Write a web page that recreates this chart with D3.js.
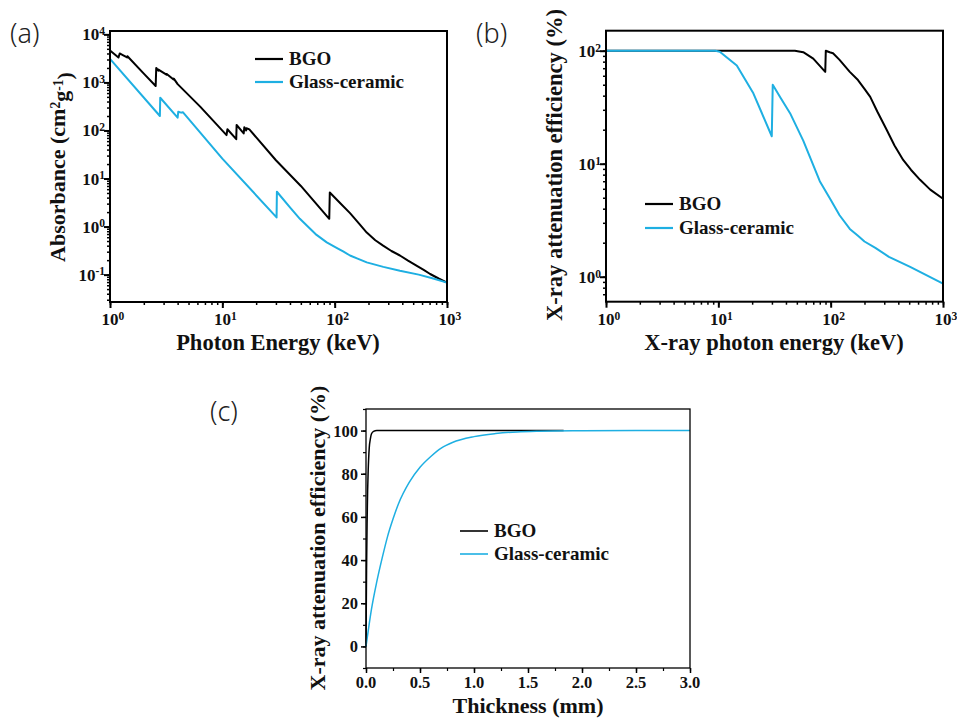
<!DOCTYPE html>
<html>
<head>
<meta charset="utf-8">
<script src="https://cdn.jsdelivr.net/npm/d3@7"></script>
<style>
  body { margin: 0; background: #fff; }
  svg text { font-family: "Liberation Serif", "Times New Roman", serif; font-weight: bold; fill: #111; }
  svg text.panel { font-family: "Noto Sans", "DejaVu Sans", sans-serif; font-weight: 300; fill: #222; }
</style>
</head>
<body>
<div id="chartContainer"></div>
<script>
// (a) mass absorption, [energy keV, cm2/g]
const bgoAbsorbance = [
  [1.0, 4600], [1.19, 3300], [1.22, 4000], [1.3, 3700], [1.42, 3300], [1.43, 3500],
  [2.0, 1520], [2.55, 840], [2.58, 2000], [2.69, 1750], [2.7, 1850], [3.18, 1450],
  [3.2, 1500], [3.68, 1150], [3.7, 1200], [4.0, 920], [6.35, 313], [10.9, 80],
  [11.1, 106], [13.3, 66], [13.4, 130], [15.5, 87], [15.7, 117], [16.3, 100],
  [16.4, 111], [17.4, 105], [30, 24], [50, 7.0], [89.5, 1.45], [90.5, 5.1],
  [110, 3.2], [137, 1.9], [165, 1.15], [193, 0.75], [230, 0.52], [270, 0.4],
  [320, 0.31], [381, 0.25], [450, 0.195], [530, 0.155], [620, 0.125], [708, 0.103],
  [850, 0.082], [1000, 0.068]
];
const glassAbsorbance = [
  [1.0, 3100], [2.78, 200], [2.8, 480], [4.0, 185], [4.05, 245], [4.3, 235],
  [4.45, 240], [10, 26], [30.4, 1.55], [30.6, 5.3], [40, 2.5], [49, 1.45], [69, 0.67],
  [85, 0.47], [104, 0.36], [120, 0.3], [137, 0.25], [160, 0.215], [193, 0.18],
  [271, 0.145], [381, 0.12], [560, 0.1], [754, 0.083], [1000, 0.068]
];

// (b) attenuation efficiency vs energy, [energy keV, %]
const bgoEfficiency = [
  [1, 100], [48, 100], [57, 97], [70, 85], [89.5, 65], [90.5, 100], [98, 97],
  [105, 95], [120, 83], [148, 65], [175, 55], [200, 46], [225, 39], [260, 29],
  [315, 20], [370, 14.5], [442, 10.8], [520, 8.8], [625, 7.2], [770, 5.9], [1000, 4.9]
];
const glassEfficiency = [
  [1, 100], [9.4, 100], [10.3, 98], [14.6, 74], [20.5, 42], [29.9, 17.5],
  [30.5, 50], [36, 38], [43.5, 28], [57, 16], [80, 7], [100, 4.8], [120, 3.5],
  [148, 2.65], [175, 2.3], [200, 2.05], [250, 1.8], [330, 1.5], [510, 1.22], [1000, 0.87]
];

// (c) attenuation efficiency vs thickness, [mm, %]
const bgoThickness = [
  [0, 0], [0.002, 15], [0.005, 35], [0.01, 57], [0.015, 72], [0.02, 81],
  [0.03, 92], [0.04, 96], [0.05, 98.4], [0.07, 99.6], [0.1, 100], [1.83, 100]
];
const glassThickness = [
  [0, 0], [0.02, 7], [0.05, 17], [0.1, 30], [0.15, 41], [0.2, 51], [0.25, 59],
  [0.3, 66], [0.4, 76], [0.5, 83], [0.6, 88], [0.7, 92], [0.8, 94.5], [1.0, 97.2],
  [1.2, 98.6], [1.4, 99.4], [1.6, 99.7], [2.0, 99.9], [2.5, 100], [3.0, 100]
];

// tick labels
const energyTicks = [1, 10, 100, 1000];
const absorbanceTicks = [0.1, 1, 10, 100, 1000, 10000];
const efficiencyTicks = [1, 10, 100];
const thicknessTicks = [0, 0.5, 1.0, 1.5, 2.0, 2.5, 3.0];
const percentTicks = [0, 20, 40, 60, 80, 100];
const seriesNames = ["BGO", "Glass-ceramic"];

const black = "#000";
const blue = "#1eafe2";

const width = 957;
const height = 720;

const svg = d3.create("svg")
    .attr("viewBox", [0, 0, width, height])
    .attr("width", width)
    .attr("height", height);

svg.append("rect").attr("width", width).attr("height", height).attr("fill", "#fff");

// "10" with a raised exponent
function powLabel(text, v) {
    text.text("10");
    text.append("tspan")
        .attr("dy", "-0.45em")
        .attr("font-size", "0.68em")
        .text(Math.round(Math.log10(v)));
}

function frame(x, y, sw) {
    const [x0, x1] = x.range();
    const [y0, y1] = y.range();
    svg.append("rect")
        .attr("x", x0).attr("y", y1)
        .attr("width", x1 - x0).attr("height", y0 - y1)
        .attr("fill", "none").attr("stroke", "#000").attr("stroke-width", sw);
}

function ticks(axis, transform, sw) {
    svg.append("g")
        .attr("transform", transform)
        .call(axis.tickFormat("").tickSizeOuter(0))
        .call(g => g.select(".domain").remove())
        .call(g => g.selectAll("line").attr("stroke-width", sw));
}

function legend(x0, y0, gap, sw) {
    [black, blue].forEach((c, i) => {
        svg.append("line")
            .attr("x1", x0).attr("x2", x0 + 28)
            .attr("y1", y0 + i * gap).attr("y2", y0 + i * gap)
            .attr("stroke", c).attr("stroke-width", sw);
        svg.append("text")
            .attr("x", x0 + 34).attr("y", y0 + i * gap + 6)
            .attr("font-size", 19)
            .text(seriesNames[i]);
    });
}

function drawLine(data, x, y, color, sw, curve) {
    svg.append("path")
        .datum(data)
        .attr("fill", "none")
        .attr("stroke", color)
        .attr("stroke-width", sw)
        .attr("stroke-linejoin", "round")
        .attr("d", d3.line().x(d => x(d[0])).y(d => y(d[1])).curve(curve || d3.curveLinear));
}

// ---------- (a) ----------
const xA = d3.scaleLog().domain([1, 1000]).range([110, 447]);
const yA = d3.scaleLog().domain([Math.pow(10, -1.57), Math.pow(10, 4.07)]).range([302, 31]);

ticks(d3.axisBottom(xA).tickValues(xA.ticks()).tickSize(3), `translate(0,302)`, 1.5);
ticks(d3.axisBottom(xA).tickValues(energyTicks).tickSize(6), `translate(0,302)`, 2);
ticks(d3.axisLeft(yA).tickValues(yA.ticks()).tickSize(3), `translate(110,0)`, 1.5);
ticks(d3.axisLeft(yA).tickValues(absorbanceTicks).tickSize(6), `translate(110,0)`, 2);

energyTicks.forEach(v => {
    powLabel(svg.append("text").attr("x", xA(v) + 3).attr("y", 325)
        .attr("text-anchor", "middle").attr("font-size", 17), v);
});
absorbanceTicks.forEach(v => {
    powLabel(svg.append("text").attr("x", 105).attr("y", yA(v) + 6)
        .attr("text-anchor", "end").attr("font-size", 17), v);
});

drawLine(bgoAbsorbance, xA, yA, black, 2);
drawLine(glassAbsorbance, xA, yA, blue, 2);
frame(xA, yA, 2);
legend(255, 59, 23, 2.2);

svg.append("text")
    .attr("x", 278).attr("y", 350)
    .attr("text-anchor", "middle").attr("font-size", 22.5)
    .text("Photon Energy (keV)");

const labA = svg.append("text")
    .attr("transform", "translate(65,167) rotate(-90)")
    .attr("text-anchor", "middle").attr("font-size", 22);
labA.append("tspan").text("Absorbance (cm");
labA.append("tspan").attr("dy", "-0.4em").attr("font-size", "0.62em").text("2");
labA.append("tspan").attr("dy", "0.4em").text("g");
labA.append("tspan").attr("dy", "-0.4em").attr("font-size", "0.62em").text("-1");
labA.append("tspan").attr("dy", "0.4em").text(")");

svg.append("text").attr("class", "panel")
    .attr("x", 10).attr("y", 43).attr("font-size", 27).text("(a)");

// ---------- (b) ----------
const xB = d3.scaleLog().domain([1, 1000]).range([606, 943]);
const yB = d3.scaleLog().domain([Math.pow(10, -0.221), Math.pow(10, 2.177)]).range([301.7, 30.7]);

ticks(d3.axisBottom(xB).tickValues(xB.ticks()).tickSize(3), `translate(0,301.7)`, 1.5);
ticks(d3.axisBottom(xB).tickValues(energyTicks).tickSize(6), `translate(0,301.7)`, 2);
ticks(d3.axisLeft(yB).tickValues(yB.ticks()).tickSize(3), `translate(606,0)`, 1.5);
ticks(d3.axisLeft(yB).tickValues(efficiencyTicks).tickSize(6), `translate(606,0)`, 2);

energyTicks.forEach(v => {
    powLabel(svg.append("text").attr("x", xB(v) + 3).attr("y", 325)
        .attr("text-anchor", "middle").attr("font-size", 17), v);
});
efficiencyTicks.forEach(v => {
    powLabel(svg.append("text").attr("x", 601).attr("y", yB(v) + 6)
        .attr("text-anchor", "end").attr("font-size", 17), v);
});

drawLine(bgoEfficiency, xB, yB, black, 2);
drawLine(glassEfficiency, xB, yB, blue, 2);
frame(xB, yB, 2);
legend(645, 204, 24, 2.2);

svg.append("text")
    .attr("x", 774).attr("y", 350)
    .attr("text-anchor", "middle").attr("font-size", 22.5)
    .text("X-ray photon energy (keV)");

svg.append("text")
    .attr("transform", "translate(562,165) rotate(-90)")
    .attr("text-anchor", "middle").attr("font-size", 22.5)
    .text("X-ray attenuation efficiency (%)");

svg.append("text").attr("class", "panel")
    .attr("x", 476).attr("y", 43).attr("font-size", 27).text("(b)");

// ---------- (c) ----------
const xC = d3.scaleLinear().domain([0, 3]).range([366, 690]);
const yC = d3.scaleLinear().domain([-10, 110]).range([668, 409]);

ticks(d3.axisBottom(xC).tickValues(d3.range(0, 3.01, 0.25)).tickSize(3), `translate(0,668)`, 1.2);
ticks(d3.axisBottom(xC).tickValues(thicknessTicks).tickSize(5), `translate(0,668)`, 1.5);
ticks(d3.axisLeft(yC).tickValues(d3.range(-10, 111, 10)).tickSize(3), `translate(366,0)`, 1.2);
ticks(d3.axisLeft(yC).tickValues(percentTicks).tickSize(5), `translate(366,0)`, 1.5);

thicknessTicks.forEach(v => {
    svg.append("text").attr("x", xC(v)).attr("y", 688)
        .attr("text-anchor", "middle").attr("font-size", 16.5).text(d3.format(".1f")(v));
});
percentTicks.forEach(v => {
    svg.append("text").attr("x", 358).attr("y", yC(v) + 6)
        .attr("text-anchor", "end").attr("font-size", 16.5).text(v);
});

drawLine(bgoThickness, xC, yC, black, 1.5, d3.curveMonotoneX);
drawLine(glassThickness, xC, yC, blue, 1.5, d3.curveMonotoneX);
frame(xC, yC, 1.3);
legend(460, 531, 23, 1.6);

svg.append("text")
    .attr("x", 528).attr("y", 713)
    .attr("text-anchor", "middle").attr("font-size", 22)
    .text("Thickness (mm)");

svg.append("text")
    .attr("transform", "translate(325,538) rotate(-90)")
    .attr("text-anchor", "middle").attr("font-size", 22)
    .text("X-ray attenuation efficiency (%)");

svg.append("text").attr("class", "panel")
    .attr("x", 210).attr("y", 421).attr("font-size", 27).text("(c)");

document.getElementById("chartContainer").appendChild(svg.node());
</script>
</body>
</html>
